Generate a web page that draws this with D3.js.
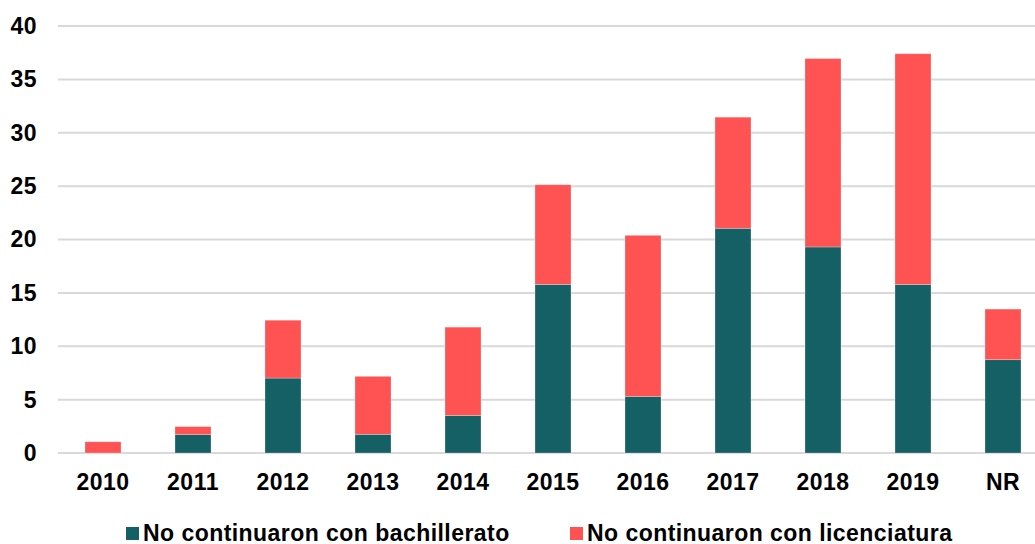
<!DOCTYPE html>
<html>
<head>
<meta charset="utf-8">
<script src="https://cdn.jsdelivr.net/npm/d3@7"></script>
<style>
  html, body { margin: 0; padding: 0; background: #fff; }
  svg text { font-family: "Liberation Sans", Arial, sans-serif; font-weight: bold; fill: #000; }
</style>
</head>
<body>
<div id="chart"></div>
<script>
// data
var categories = ['2010', '2011', '2012', '2013', '2014', '2015', '2016', '2017', '2018', '2019', 'NR'];
var bachillerato = [0, 1.72, 7.02, 1.75, 3.51, 15.79, 5.3, 21.05, 19.3, 15.79, 8.74];
var licenciatura = [1.05, 0.75, 5.42, 5.43, 8.28, 9.34, 15.09, 10.41, 17.65, 21.61, 4.74];
var seriesNames = ['No continuaron con bachillerato', 'No continuaron con licenciatura'];
var yTicks = [0, 5, 10, 15, 20, 25, 30, 35, 40];

var width = 1035, height = 544;
var colors = ['#156064', '#ff5252'];

var table = categories.map(function(c, i) {
  return { cat: c, bach: bachillerato[i], lic: licenciatura[i] };
});
var stack = d3.stack().keys(['bach', 'lic'])(table);

var x = d3.scaleBand()
  .domain(categories)
  .range([58, 1048])
  .paddingInner(0.6)
  .paddingOuter(0.3);

var y = d3.scaleLinear()
  .domain([0, 40])
  .range([453, 26]);

var svg = d3.select('#chart').append('svg')
  .attr('width', width)
  .attr('height', height);

// gridlines
svg.append('g')
  .selectAll('line')
  .data(yTicks)
  .enter().append('line')
  .attr('x1', 58)
  .attr('x2', width)
  .attr('y1', function(d) { return y(d); })
  .attr('y2', function(d) { return y(d); })
  .attr('stroke', '#d9d9d9')
  .attr('stroke-width', 2);

// y axis labels
var yAxis = svg.append('g')
  .attr('transform', 'translate(37,0)')
  .call(d3.axisLeft(y).tickValues(yTicks).tickSize(0).tickPadding(0));
yAxis.select('.domain').remove();
yAxis.selectAll('text')
  .attr('font-size', 23)
  .attr('letter-spacing', 0.5)
  .attr('font-family', null);

// bars
svg.append('g')
  .selectAll('g')
  .data(stack)
  .enter().append('g')
  .attr('fill', function(d, i) { return colors[i]; })
  .selectAll('rect')
  .data(function(d) { return d; })
  .enter().append('rect')
  .attr('x', function(d) { return x(d.data.cat); })
  .attr('width', x.bandwidth())
  .attr('y', function(d) { return y(d[1]); })
  .attr('height', function(d) { return y(d[0]) - y(d[1]); })
  .attr('stroke', '#ffffff')
  .attr('stroke-opacity', 0.35)
  .attr('stroke-width', 0.75);

// x axis labels
var xAxis = svg.append('g')
  .attr('transform', 'translate(0,' + 473 + ')')
  .call(d3.axisBottom(x).tickSize(0).tickPadding(0));
xAxis.select('.domain').remove();
xAxis.selectAll('text')
  .attr('font-size', 23)
  .attr('letter-spacing', 0.5)
  .attr('font-family', null)
  .attr('dy', '0.72em');

// legend
var legendX = [126, 570];
var legend = svg.append('g')
  .selectAll('g')
  .data(seriesNames)
  .enter().append('g')
  .attr('transform', function(d, i) { return 'translate(' + legendX[i] + ',527)'; });

legend.append('rect')
  .attr('width', 13)
  .attr('height', 13)
  .attr('fill', function(d, i) { return colors[i]; });

legend.append('text')
  .attr('x', 17)
  .attr('y', 13.5)
  .attr('font-size', 23)
  .attr('letter-spacing', 0.45)
  .text(function(d) { return d; });
</script>
</body>
</html>
